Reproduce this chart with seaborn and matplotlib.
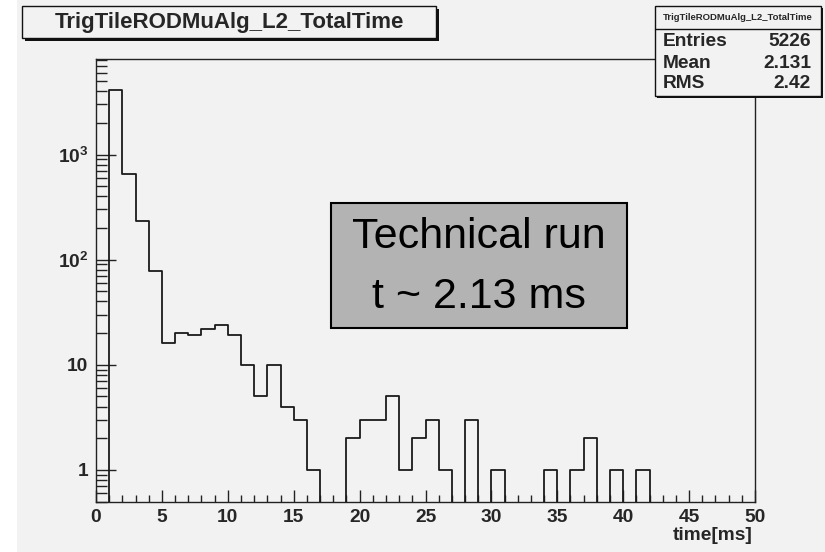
import numpy as np
import pandas as pd
import matplotlib
matplotlib.use("Agg")
import matplotlib.pyplot as plt
from matplotlib.patches import Rectangle
from matplotlib.ticker import FixedLocator, MultipleLocator, LogLocator, NullFormatter
import seaborn as sns

# ---- data ----
bin_low = list(range(50))  # time [ms], lower bin edge, bin width 1 ms
counts = [0, 4080, 650, 235, 78, 16, 20, 19, 22, 24,
          19, 10, 5, 10, 4, 3, 1, 0, 0, 2,
          3, 3, 5, 1, 2, 3, 1, 0, 3, 0,
          1, 0, 0, 0, 1, 0, 1, 2, 0, 1,
          0, 1, 0, 0, 0, 0, 0, 0, 0, 0]
hist_name = "TrigTileRODMuAlg_L2_TotalTime"
stat_labels = ["Entries", "Mean", "RMS"]
stat_values = ["5226", "2.131", "2.42"]
note_lines = ["Technical run", "t ~ 2.13 ms"]
xlabel = "time[ms]"
y_tick_vals = [1, 10, 100, 1000]
y_tick_labels = ["1", "10", r"$\mathregular{10^{2}}$", r"$\mathregular{10^{3}}$"]

sns.set_theme(style="white")
plt.rcParams["font.family"] = ["Liberation Sans", "DejaVu Sans"]
plt.rcParams["mathtext.fontset"] = "custom"
plt.rcParams["mathtext.rm"] = "Liberation Sans:bold"

W, H = 825, 552
BG = "#f2f2f2"
FS = 13.8
fig = plt.figure(figsize=(W / 100, H / 100), dpi=100, facecolor=BG)


def px_rect(x0, y0, x1, y1, **kw):
    r = Rectangle((x0 / W, 1 - y1 / H), (x1 - x0) / W, (y1 - y0) / H,
                  transform=fig.transFigure, **kw)
    fig.patches.append(r)
    return r


def px_text(x, y, s, **kw):
    return fig.text(x / W, 1 - y / H, s, **kw)


# white strip on the left edge
px_rect(0, 0, 17, H, facecolor="white", edgecolor="none", zorder=-5)

ax_l, ax_r, ax_t, ax_b = 96, 755, 59, 502
ax = fig.add_axes([ax_l / W, 1 - ax_b / H, (ax_r - ax_l) / W, (ax_b - ax_t) / H])
ax.set_facecolor(BG)

df = pd.DataFrame({"time": [b + 0.5 for b in bin_low], "n": counts})
edges = bin_low + [bin_low[-1] + 1]
sns.histplot(data=df, x="time", weights="n", bins=edges, element="step",
             fill=False, color="#1a1a1a", linewidth=1.3, ax=ax)
ax.set_yscale("log", nonpositive="clip")
ax.set_xlim(0, 50)
ax.set_ylim(0.495, 8100)
ax.set_xlabel("")
ax.set_ylabel("")

for s in ax.spines.values():
    s.set_visible(True)
    s.set_color("#222222")
    s.set_linewidth(1.0)

ax.xaxis.set_major_locator(MultipleLocator(5))
ax.xaxis.set_minor_locator(MultipleLocator(1))
ax.yaxis.set_major_locator(FixedLocator(y_tick_vals))
ax.set_yticklabels(y_tick_labels)
ax.yaxis.set_minor_locator(LogLocator(base=10, subs=np.arange(2, 10)))
ax.yaxis.set_minor_formatter(NullFormatter())
ax.tick_params(axis="x", which="major", direction="in", length=9, width=1.0,
               pad=5.0, labelsize=FS, bottom=True, top=False, color="#222222")
ax.tick_params(axis="x", which="minor", direction="in", length=5.2, width=1.0,
               bottom=True, top=False, color="#222222")
ax.tick_params(axis="y", which="major", direction="in", length=14.5, width=1.0,
               pad=5.5, labelsize=FS, left=True, right=False, color="#222222")
ax.tick_params(axis="y", which="minor", direction="in", length=7.7, width=1.0,
               left=True, right=False, color="#222222")
for lab in ax.get_xticklabels() + ax.get_yticklabels():
    lab.set_fontweight("bold")

px_text(753, 535, xlabel, ha="right", va="center", fontsize=FS, fontweight="bold")

# title box (with shadow)
px_rect(25, 9, 439, 41, facecolor="#111111", edgecolor="none", zorder=5)
px_rect(22, 6, 436, 38, facecolor=BG, edgecolor="#111111", linewidth=1.0, zorder=6)
px_text(229, 22.5, hist_name, ha="center", va="center", fontsize=16,
        fontweight="bold", zorder=7)

# stats box (with shadow)
px_rect(657, 8, 823, 98, facecolor="#111111", edgecolor="none", zorder=5)
px_rect(655, 6, 821, 96, facecolor=BG, edgecolor="#111111", linewidth=1.0, zorder=6)
fig.lines.append(plt.Line2D([655 / W, 821 / W], [1 - 29 / H, 1 - 29 / H],
                            transform=fig.transFigure, color="#111111",
                            linewidth=1.0, zorder=7))
px_text(738, 17.5, hist_name, ha="center", va="center", fontsize=6.8,
        fontweight="bold", zorder=7)
for i, (lab, val) in enumerate(zip(stat_labels, stat_values)):
    yy = [41.5, 63, 83.5][i]
    px_text(663, yy, lab, ha="left", va="center", fontsize=FS,
            fontweight="bold", zorder=7)
    px_text(811, yy, val, ha="right", va="center", fontsize=FS,
            fontweight="bold", zorder=7)

# note box
px_rect(331, 203, 627, 328, facecolor="#b3b3b3", edgecolor="black",
        linewidth=1.5, zorder=6)
for yy, line in zip([236.5, 296.5], note_lines):
    px_text(479, yy, line, ha="center", va="center", fontsize=31, zorder=7,
            color="black")

fig.savefig("out.png", dpi=100, facecolor=BG)
